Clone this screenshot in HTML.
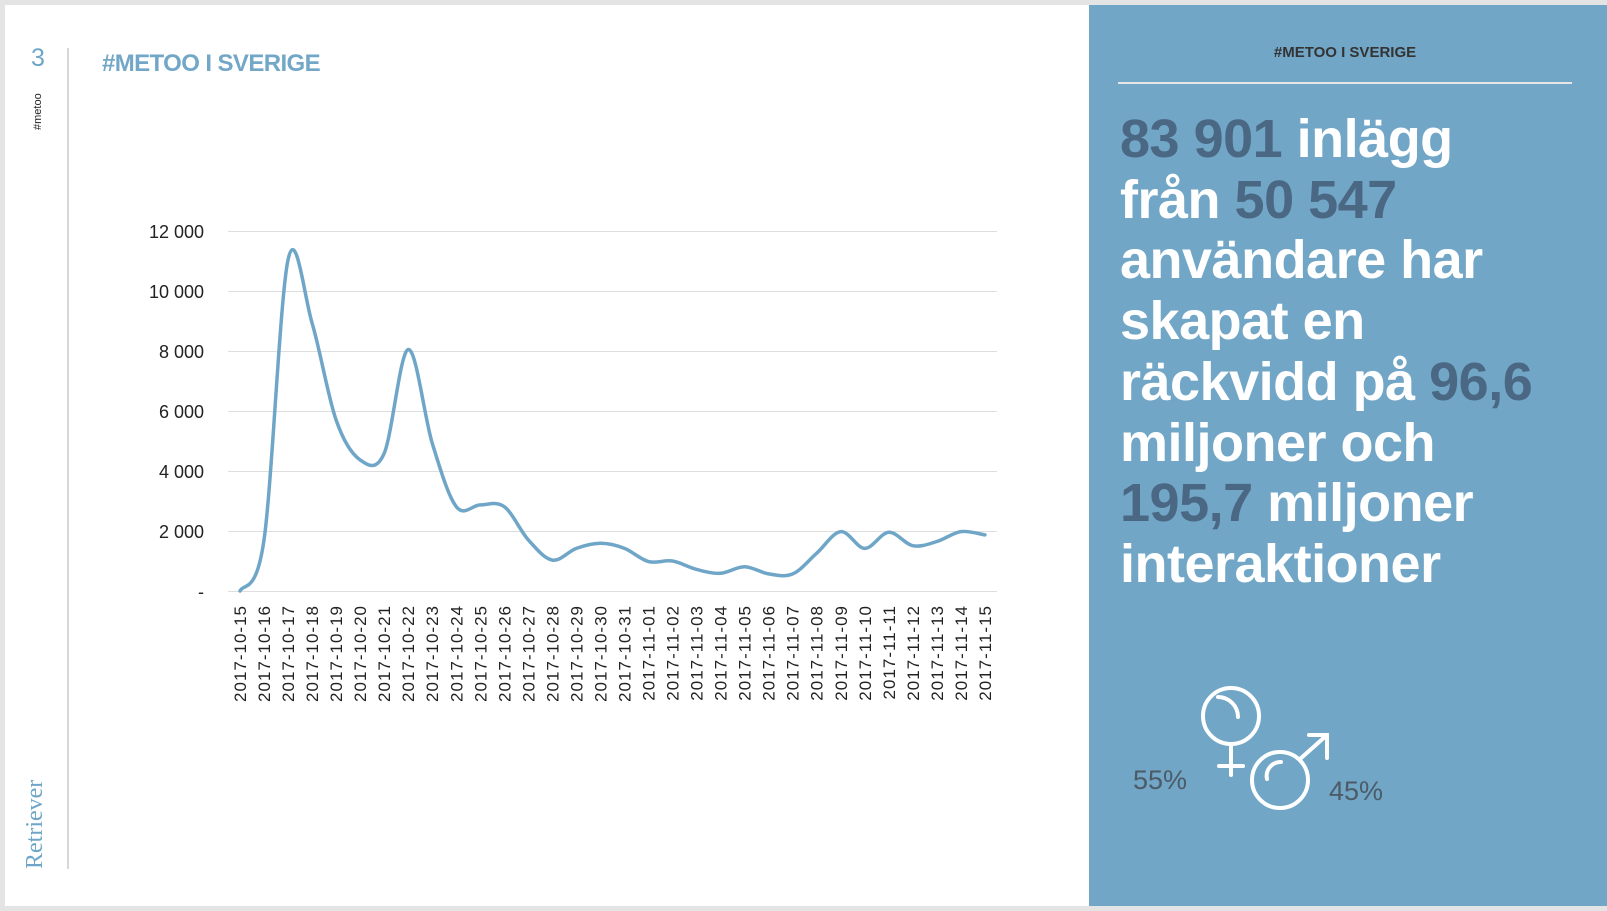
<!DOCTYPE html>
<html><head><meta charset="utf-8"><style>
html,body{margin:0;padding:0;background:#e4e4e4;}
body{width:1607px;height:911px;overflow:hidden;position:relative;font-family:"Liberation Sans",Arial,sans-serif;}
</style></head><body>
<svg width="1607" height="911" viewBox="0 0 1607 911" xmlns="http://www.w3.org/2000/svg" style="position:absolute;left:0;top:0">
<rect x="5" y="5" width="1602" height="901" fill="#ffffff"/>
<rect x="1089" y="5" width="518" height="901" fill="#71a6c6"/>
<line x1="68" y1="48" x2="68" y2="869" stroke="#d8d8d8" stroke-width="2"/>
<text x="38" y="66" text-anchor="middle" font-size="25" fill="#6fa6c8" font-family="Liberation Sans, sans-serif">3</text>
<text transform="translate(41,130) rotate(-90)" font-size="11" fill="#222" font-family="Liberation Sans, sans-serif">#metoo</text>
<text transform="translate(42,869) rotate(-90)" font-size="24" fill="#6fa6c8" font-family="Liberation Serif, serif">Retriever</text>
<text x="102" y="71" font-size="24" font-weight="bold" fill="#72a7c8" letter-spacing="-0.6" font-family="Liberation Sans, sans-serif">#METOO I SVERIGE</text>
<g stroke="#dedede" stroke-width="1">
<line x1="228" y1="231.5" x2="997" y2="231.5"/>
<line x1="228" y1="291.5" x2="997" y2="291.5"/>
<line x1="228" y1="351.5" x2="997" y2="351.5"/>
<line x1="228" y1="411.5" x2="997" y2="411.5"/>
<line x1="228" y1="471.5" x2="997" y2="471.5"/>
<line x1="228" y1="531.5" x2="997" y2="531.5"/>
<line x1="228" y1="591.5" x2="997" y2="591.5"/>
</g>
<g font-size="18" fill="#222" text-anchor="end" font-family="Liberation Sans, sans-serif">
<text x="204" y="238">12 000</text>
<text x="204" y="298">10 000</text>
<text x="204" y="358">8 000</text>
<text x="204" y="418">6 000</text>
<text x="204" y="478">4 000</text>
<text x="204" y="538">2 000</text>
<text x="204" y="598">-</text>
</g>
<path id="ln" fill="none" stroke="#6fa6c8" stroke-width="3.5" stroke-linejoin="round" stroke-linecap="round" d=""/>
<g id="xl" font-size="17" fill="#222" text-anchor="end" letter-spacing="1" font-family="Liberation Sans, sans-serif"></g>
<text x="1345" y="57" text-anchor="middle" font-size="15" font-weight="bold" fill="#333" font-family="Liberation Sans, sans-serif">#METOO I SVERIGE</text>
<line x1="1118" y1="83" x2="1572" y2="83" stroke="#e6e6e6" stroke-width="2"/>
<g font-size="54" font-weight="bold" fill="#ffffff" font-family="Liberation Sans, sans-serif" letter-spacing="-0.5">
<text x="1120" y="157"><tspan fill="#4a6783">83 901</tspan> inlägg</text>
<text x="1120" y="218">från <tspan fill="#4a6783">50 547</tspan></text>
<text x="1120" y="278">användare har</text>
<text x="1120" y="339">skapat en</text>
<text x="1120" y="400">räckvidd på <tspan fill="#4a6783">96,6</tspan></text>
<text x="1120" y="461">miljoner och</text>
<text x="1120" y="521"><tspan fill="#4a6783">195,7</tspan> miljoner</text>
<text x="1120" y="582">interaktioner</text>
</g>
<g fill="none" stroke="#ffffff" stroke-width="4" stroke-linecap="round">
<circle cx="1231" cy="716" r="28"/>
<path d="M1218 697 A20 20 0 0 1 1238 717"/>
<line x1="1231" y1="744" x2="1231" y2="775"/>
<line x1="1219" y1="766" x2="1243" y2="766"/>
<circle cx="1280" cy="780" r="28"/>
<path d="M1267 779 A14 14 0 0 1 1281 762" />
<line x1="1300" y1="759" x2="1327" y2="735"/>
<polyline points="1309,735 1327,735 1327,758"/>
</g>
<text x="1133" y="789" font-size="27" fill="#4c5b68" font-family="Liberation Sans, sans-serif">55%</text>
<text x="1329" y="800" font-size="27" fill="#4c5b68" font-family="Liberation Sans, sans-serif">45%</text>
</svg>
<script>
var v=[0,1700,11050,8930,5700,4370,4590,8050,4930,2810,2870,2810,1700,1030,1420,1590,1420,980,1000,720,590,810,570,570,1260,1980,1420,1960,1510,1650,1980,1870];
var pts=v.map(function(d,i){return [240+24.03*i,591-d*0.03];});
var d="M"+pts[0][0]+" "+pts[0][1];
for(var i=0;i<pts.length-1;i++){
 var p0=pts[i-1]||pts[i],p1=pts[i],p2=pts[i+1],p3=pts[i+2]||p2;
 var c1=[p1[0]+(p2[0]-p0[0])/6,p1[1]+(p2[1]-p0[1])/6];
 var c2=[p2[0]-(p3[0]-p1[0])/6,p2[1]-(p3[1]-p1[1])/6];
 d+=" C"+c1[0].toFixed(1)+" "+c1[1].toFixed(1)+" "+c2[0].toFixed(1)+" "+c2[1].toFixed(1)+" "+p2[0].toFixed(1)+" "+p2[1].toFixed(1);
}
document.getElementById("ln").setAttribute("d",d);
var g=document.getElementById("xl"),s="";
for(var i=0;i<32;i++){
 var dt=new Date(Date.UTC(2017,9,15+i));
 var lab=dt.getUTCFullYear()+"-"+("0"+(dt.getUTCMonth()+1)).slice(-2)+"-"+("0"+dt.getUTCDate()).slice(-2);
 var x=(240+24.03*i+6).toFixed(1);
 s+='<text transform="translate('+x+',605) rotate(-90)">'+lab+'</text>';
}
g.innerHTML=s;
</script>
</body></html>
